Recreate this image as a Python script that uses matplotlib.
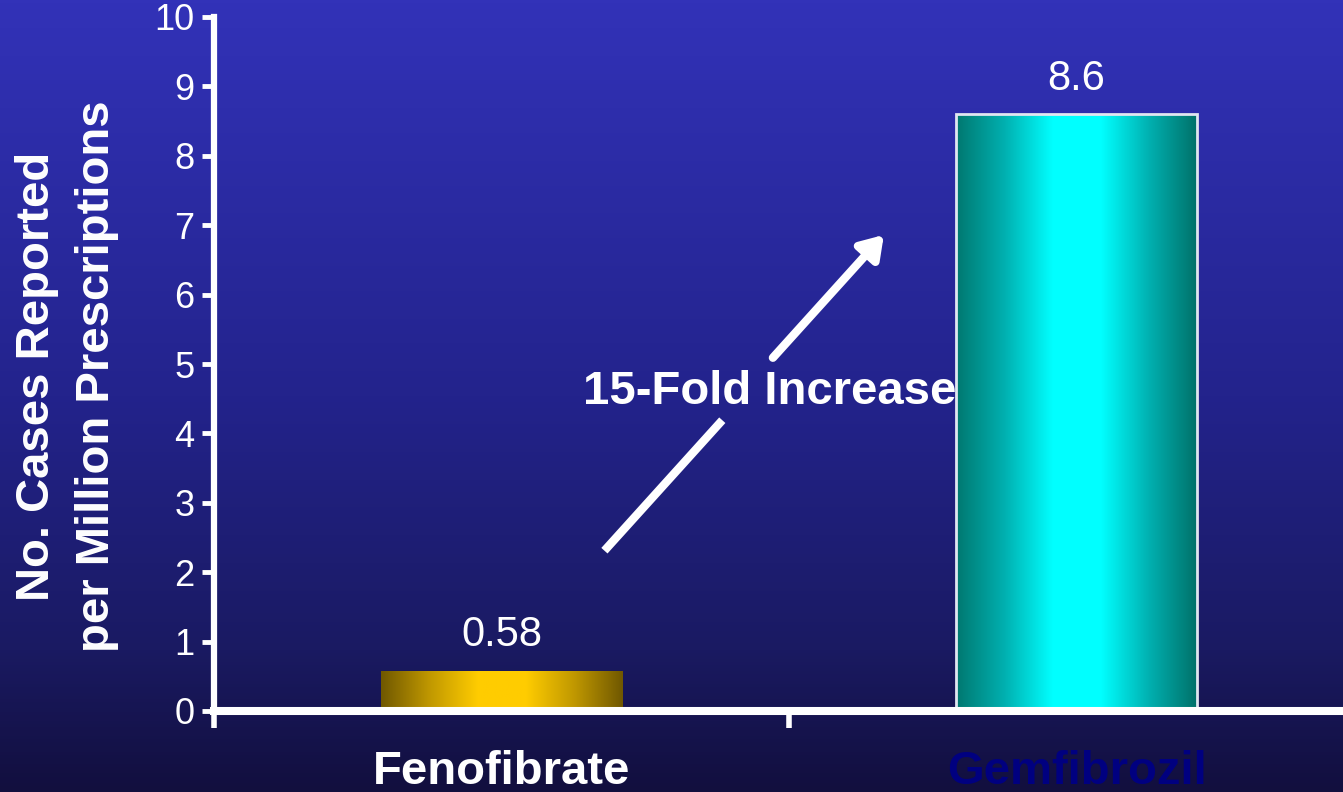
import numpy as np
import matplotlib
matplotlib.use("Agg")
import matplotlib.pyplot as plt
from matplotlib.colors import LinearSegmentedColormap

# data
drugs = ["Fenofibrate", "Gemfibrozil"]
cases = [0.58, 8.6]
value_labels = ["0.58", "8.6"]
label_colors = ["white", "#000080"]
yticks = list(range(0, 11))
note = "15-Fold Increase"

plt.rcParams['font.family'] = ['Liberation Sans', 'DejaVu Sans']

fig = plt.figure(figsize=(13.43, 7.92), dpi=100)

# slide background gradient (top blue -> dark navy)
bg = fig.add_axes([0, 0, 1, 1], zorder=-10)
bg_cmap = LinearSegmentedColormap.from_list(
    "bg", [(0, "#3232b8"), (0.5, "#23238c"), (0.82, "#1a1a62"), (1, "#120f3e")])
bg.imshow(np.linspace(0, 1, 256)[:, None], aspect="auto", cmap=bg_cmap,
          extent=[0, 1, 0, 1])
bg.axis("off")

# axes run past the right edge of the slide, like the original
ax = fig.add_axes([214 / 1343, (792 - 711) / 792, 1150 / 1343, 694 / 792])
ax.set_facecolor("none")
ax.set_xlim(-0.5, 1.5)
ax.set_ylim(0, 10)

x = np.arange(len(drugs))
width = 0.42
gold = LinearSegmentedColormap.from_list(
    "gold", ["#705800", "#c09800", "#ffcc00", "#ffcc00", "#c09800", "#705800"])
teal = LinearSegmentedColormap.from_list(
    "teal", ["#007870", "#00b0b0", "#00ffff", "#00ffff", "#00b0b0", "#007068"])
cmaps = [gold, teal]
edges = ["none", "#e0e6f0"]

bars = ax.bar(x, cases, width=width, color="none", edgecolor=edges, linewidth=2)
grad = np.linspace(0, 1, 256)[None, :]
for b, cm in zip(bars, cmaps):
    x0, y0 = b.get_x(), b.get_y()
    w, h = b.get_width(), b.get_height()
    im = ax.imshow(grad, aspect="auto", cmap=cm, extent=[x0, x0 + w, y0, y0 + h],
                   zorder=1)
    im.set_clip_path(b)
    b.set_zorder(2)

for xi, v, t in zip(x, cases, value_labels):
    ax.text(xi, v + 0.22, t, ha="center", va="bottom", color="white", fontsize=30)

# spines / ticks
for s in ["top", "right"]:
    ax.spines[s].set_visible(False)
ax.spines["left"].set_color("white")
ax.spines["left"].set_linewidth(4.5)
ax.spines["bottom"].set_color("white")
ax.spines["bottom"].set_linewidth(5.8)
ax.set_yticks(yticks)
ax.tick_params(axis="y", colors="white", labelsize=26, length=9, width=3.5,
               direction="out", pad=5)
ax.set_xticks([-0.5, 0.5, 1.5])
ax.set_xticklabels([])
ax.tick_params(axis="x", colors="white", length=12, width=4, direction="out")
for xi, name, c in zip(x, drugs, label_colors):
    ax.text(xi, -0.88, name, ha="center", va="center", color=c,
            fontsize=34, fontweight="bold", clip_on=False)

fig.text(67 / 1343, 1 - 376 / 792, "No. Cases Reported\nper Million Prescriptions",
         rotation=90, ha="center", va="center", color="white", fontsize=34,
         fontweight="bold", linespacing=1.45, multialignment="center")

# broken arrow around the annotation text
ax.plot([0.179, 0.384], [2.31, 4.19], color="white", lw=6, solid_capstyle="butt")
ax.annotate("", xy=(0.665, 6.86), xytext=(0.472, 5.09),
            arrowprops=dict(arrowstyle="-|>,head_length=1.3,head_width=0.85",
                            color="white", lw=6, shrinkA=0, shrinkB=0))
ax.text(0.467, 4.6, note, ha="center", va="center", color="white",
        fontsize=34, fontweight="bold")

fig.savefig("out.png", dpi=100)
